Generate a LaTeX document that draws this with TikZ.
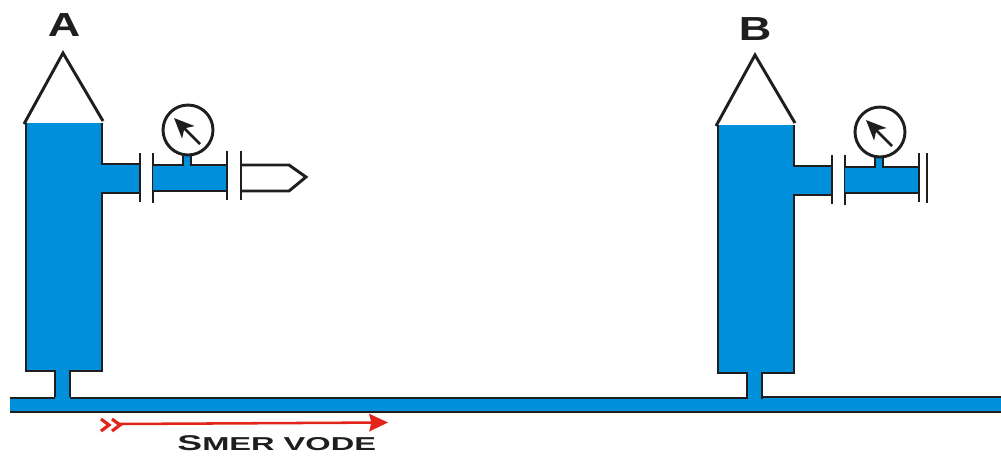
\documentclass[tikz,border=0pt]{standalone}
\usepackage{fontspec}
\setmainfont{Liberation Sans}
\usepackage{xcolor}
\usetikzlibrary{arrows.meta}
\definecolor{water}{HTML}{008FDB}
\definecolor{flow}{HTML}{E1251B}
\definecolor{ink}{HTML}{1E1E1E}

\begin{document}
\begin{tikzpicture}[x=0.75pt,y=-0.75pt,
  wall/.style={draw=ink, line width=2.2pt, line join=miter},
  flange/.style={draw=ink, line width=2pt},
  needle/.style={draw=ink, line width=2pt, -{Stealth[length=15pt,width=13pt,inset=4pt]}},
  letter/.style={text=ink, inner sep=0pt, font=\fontsize{25}{25}\selectfont\bfseries, xscale=1.35},
  chevron/.style={draw=flow, line width=2.4pt}]
  \useasboundingbox (0,0) rectangle (1001,455);
  % main pipe
  \fill[water] (10,398) rectangle (1001,412);
  \draw[wall] (10,398) -- (55,398);
  \draw[wall] (70,398) -- (747,398);
  \draw[wall] (761,397) -- (1001,397);
  \draw[wall] (10,412) -- (1001,412);
  % the two stations
  \foreach \name/\dx/\dy in {A/0/0,B/692/2} {
    \begin{scope}[xshift=\dx*0.75pt,yshift=-\dy*0.75pt]
      \fill[water] (26,123) -- (102,123) -- (102,164) -- (139,164) -- (139,193) -- (102,193)
        -- (102,371) -- (70,371) -- (70,399) -- (55,399) -- (55,371) -- (26,371) -- cycle;
      \draw[wall] (55,397) -- (55,371) -- (26,371) -- (26,123);
      \draw[wall] (70,397) -- (70,371) -- (102,371) -- (102,193) -- (139,193);
      \draw[wall] (139,164) -- (102,164) -- (102,123);
      \draw[wall] (24,124) -- (63,53) -- (103,121);
      % flanges and outlet
      \draw[flange] (140,153) -- (140,202);
      \draw[flange] (153,153) -- (153,203);
      \fill[water] (153,165) rectangle (226,191);
      \fill[water] (183,152) rectangle (191,166);
      \draw[wall] (153,165) -- (183,165) -- (183,154);
      \draw[wall] (191,154) -- (191,165) -- (226,165);
      \draw[wall] (153,191) -- (226,191);
      \draw[flange] (227,151) -- (227,200);
      % gauge
      \draw[wall, fill=white] (188,130) circle (25);
      \draw[needle] (200,144) -- (174,118);
    \end{scope}
  }
  % end of the A outlet
  \draw[flange] (241,151) -- (241,200);
  \draw[wall] (242,165) -- (289,165) -- (306,177) -- (289,191) -- (242,191);
  % end of the B outlet
  \draw[flange] (927,153) -- (927,203);
  % labels
  \node[letter] (labelA) at (64,25) {A};
  \node[letter] (labelB) at (755,29) {B};
  % direction of flow
  \draw[chevron] (101,419) -- (109,425) -- (101,431);
  \draw[chevron] (112,419) -- (120,425) -- (112,431);
  \coordinate (flowstart) at (118,424);
  \coordinate (flowend) at (388,422.5);
  \draw[draw=flow, line width=1.9pt, -{Stealth[length=14pt,width=13pt,inset=1.5pt]}] (flowstart) -- (flowend);
  \node[anchor=base west, inner sep=0pt, text=ink, xscale=1.745] (flowlabel) at (177,450)
    {\bfseries\fontsize{16}{16}\selectfont S\fontsize{14}{14}\selectfont MER VODE};
\end{tikzpicture}
\end{document}
